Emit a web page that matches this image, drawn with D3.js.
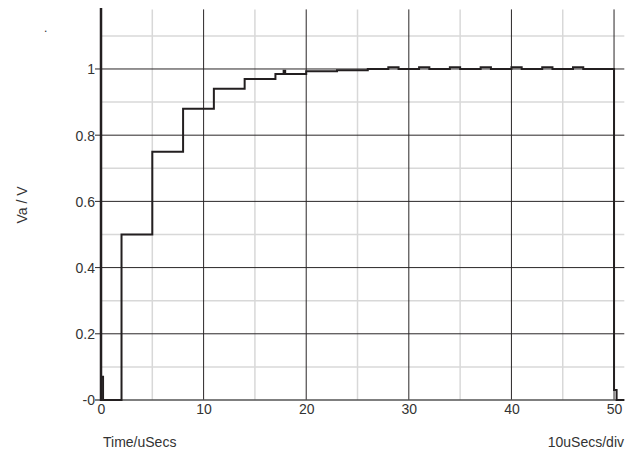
<!DOCTYPE html>
<html><head><meta charset="utf-8">
<script src="https://cdn.jsdelivr.net/npm/d3@7"></script>
<style>body{margin:0;background:#fff}svg{display:block}text{font-family:"Liberation Sans",Arial,sans-serif;fill:#333}</style>
</head><body><svg id="c" width="636" height="453"></svg>
<script>
// Data
const times  = [0, 0.2, 2, 5, 8, 11, 14, 17, 17.8, 17.95, 20, 23, 26, 28, 29, 31, 32, 34, 35, 37, 38, 40, 41, 43, 44, 46, 47, 50, 50.25, 51];
const values = [0.07, 0, 0.5, 0.75, 0.88, 0.94, 0.97, 0.985, 0.995, 0.985, 0.993, 0.996, 1.0, 1.005, 1.0, 1.005, 1.0, 1.005, 1.0, 1.005, 1.0, 1.005, 1.0, 1.005, 1.0, 1.005, 1.0, 0.03, 0, 0];
const xMajor = [0, 10, 20, 30, 40, 50];
const xMinor = [5, 15, 25, 35, 45];
const yMajor = [0, 0.2, 0.4, 0.6, 0.8, 1];
const yMinor = [0.1, 0.3, 0.5, 0.7, 0.9, 1.1];
const yTickLabels = ["-0", "0.2", "0.4", "0.6", "0.8", "1"];
const xLabel = "Time/uSecs", xDivLabel = "10uSecs/div", yLabel = "Va / V";

const svg = d3.select("#c");
const x = d3.scaleLinear().domain([0, 51]).range([101, 624.3]);
const y = d3.scaleLinear().domain([0, 1.18]).range([400, 9.4]);

// minor grid
svg.append("g").selectAll("line").data(xMinor).join("line")
  .attr("x1", d => x(d)).attr("x2", d => x(d)).attr("y1", y(1.18)).attr("y2", y(0))
  .attr("stroke", "#d8d8d8").attr("stroke-width", 1.5);
svg.append("g").selectAll("line").data(yMinor).join("line")
  .attr("x1", x(0)).attr("x2", x(51)).attr("y1", d => y(d)).attr("y2", d => y(d))
  .attr("stroke", "#d8d8d8").attr("stroke-width", 1.5);
// major grid
svg.append("g").selectAll("line").data(xMajor.slice(1)).join("line")
  .attr("x1", d => x(d)).attr("x2", d => x(d)).attr("y1", y(1.18)).attr("y2", y(0))
  .attr("stroke", "#2a2627").attr("stroke-width", 1);
svg.append("g").selectAll("line").data(yMajor).join("line")
  .attr("x1", x(0) - 6).attr("x2", x(51)).attr("y1", d => y(d)).attr("y2", d => y(d))
  .attr("stroke", d => d === 0 ? "#555" : "#2a2627").attr("stroke-width", d => d === 0 ? 1.5 : 1);

// axes labels via d3 axes
const ya = svg.append("g").attr("transform", `translate(${x(0)},0)`)
  .call(d3.axisLeft(y).tickValues(yMajor).tickSize(0).tickPadding(6).tickFormat((d, i) => yTickLabels[i]));
ya.select(".domain").remove();
ya.selectAll("text").attr("font-size", 14).attr("fill", "#333").attr("dy", "0.35em").attr("font-family", "Liberation Sans, Arial, sans-serif");
const xa = svg.append("g").attr("transform", `translate(0,${y(0)})`)
  .call(d3.axisBottom(x).tickValues(xMajor).tickSize(0).tickPadding(4).tickFormat(d3.format("d")));
xa.select(".domain").remove();
xa.selectAll("text").attr("font-size", 14).attr("fill", "#333").attr("font-family", "Liberation Sans, Arial, sans-serif");

// left axis line
svg.append("line").attr("x1", x(0)).attr("x2", x(0)).attr("y1", 8).attr("y2", y(0) + 1)
  .attr("stroke", "#231f20").attr("stroke-width", 2.5);

// signal
const pts = times.map((t, i) => [t, values[i]]);
svg.append("path").datum(pts)
  .attr("d", d3.line().x(d => x(d[0])).y(d => y(d[1])).curve(d3.curveStepAfter))
  .attr("fill", "none").attr("stroke", "#231f20").attr("stroke-width", 2);

// titles
svg.append("text").attr("x", 103).attr("y", 447).attr("font-size", 14).text(xLabel);
svg.append("text").attr("x", 624).attr("y", 447).attr("font-size", 14).attr("text-anchor", "end").text(xDivLabel);
svg.append("text").attr("transform", "translate(27,205) rotate(-90)").attr("font-size", 14)
  .attr("text-anchor", "middle").text(yLabel);
svg.append("text").attr("x", 44).attr("y", 32).attr("font-size", 12).text(".");
</script></body></html>
